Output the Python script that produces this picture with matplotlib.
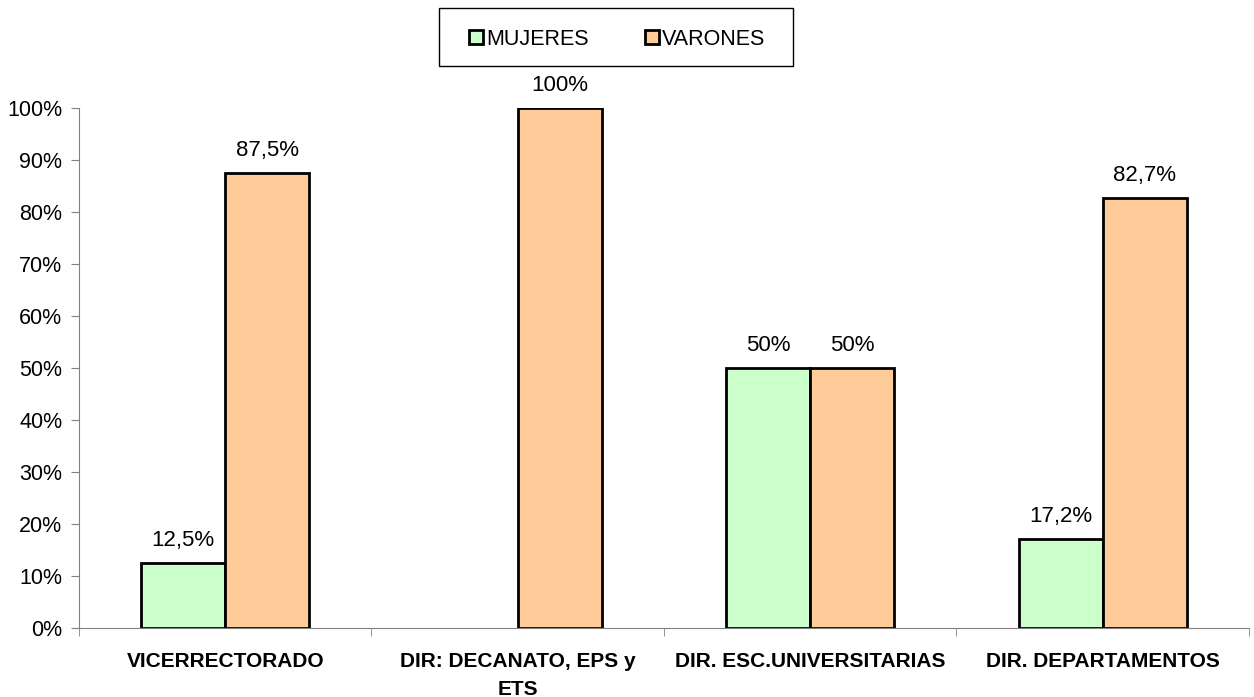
import matplotlib
matplotlib.use("Agg")
import matplotlib.pyplot as plt
from matplotlib.patches import Rectangle
import numpy as np

plt.rcParams['font.family'] = ['Liberation Sans', 'DejaVu Sans']

categories = ['VICERRECTORADO', 'DIR: DECANATO, EPS y\nETS',
              'DIR. ESC.UNIVERSITARIAS', 'DIR. DEPARTAMENTOS']
mujeres = [12.5, 0, 50, 17.2]
varones = [87.5, 100, 50, 82.7]
mujeres_lbl = ['12,5%', '', '50%', '17,2%']
varones_lbl = ['87,5%', '100%', '50%', '82,7%']

fig = plt.figure(figsize=(12.54, 6.97), dpi=100)
ax = fig.add_axes([0.063, 0.099, 0.933, 0.746])

x = np.arange(len(categories))
w = 0.287
b1 = ax.bar(x - w / 2, mujeres, w, color='#CCFFCC', edgecolor='black', linewidth=2, label='MUJERES')
b2 = ax.bar(x + w / 2, varones, w, color='#FFCC99', edgecolor='black', linewidth=2, label='VARONES')

for rect, v, t in zip(b1, mujeres, mujeres_lbl):
    if v > 0:
        ax.text(rect.get_x() + rect.get_width() / 2, v + 2.3, t, ha='center', va='bottom', fontsize=16)
    else:
        rect.set_linewidth(0)
for rect, v, t in zip(b2, varones, varones_lbl):
    ax.text(rect.get_x() + rect.get_width() / 2, v + 2.3, t, ha='center', va='bottom', fontsize=16)

ax.set_xlim(-0.5, len(categories) - 0.5)
ax.set_ylim(0, 100)
ax.set_yticks(np.arange(0, 101, 10))
ax.set_yticklabels([f'{v}%' for v in range(0, 101, 10)], fontsize=15.5)

# category labels centered, ticks at boundaries
ax.set_xticks(x)
ax.set_xticklabels(categories, fontsize=15, fontweight='bold', linespacing=1.6)
ax.tick_params(axis='x', length=0, pad=17)
ax.set_xticks(np.arange(-0.5, len(categories), 1), minor=True)
ax.tick_params(axis='x', which='minor', length=6, color='#808080')
ax.tick_params(axis='y', length=6, color='#808080', pad=6)

for s in ['top', 'right']:
    ax.spines[s].set_visible(False)
ax.spines['left'].set_color('#808080')
ax.spines['bottom'].set_color('#808080')

# legend box drawn separately (wide side padding like the original)
fig.patches.append(Rectangle((439 / 1254, 1 - 66 / 697), 354 / 1254, 58 / 697,
                             transform=fig.transFigure, facecolor='white',
                             edgecolor='black', linewidth=1))
leg = fig.legend(loc='center', bbox_to_anchor=(0.492, 0.944), ncol=2, fontsize=15.5,
                 frameon=False, handlelength=0.65, handleheight=0.65, handletextpad=0.15,
                 columnspacing=2.6, borderaxespad=0)
for h in leg.legend_handles:
    h.set_linewidth(2)

fig.savefig('out.png', dpi=100)
